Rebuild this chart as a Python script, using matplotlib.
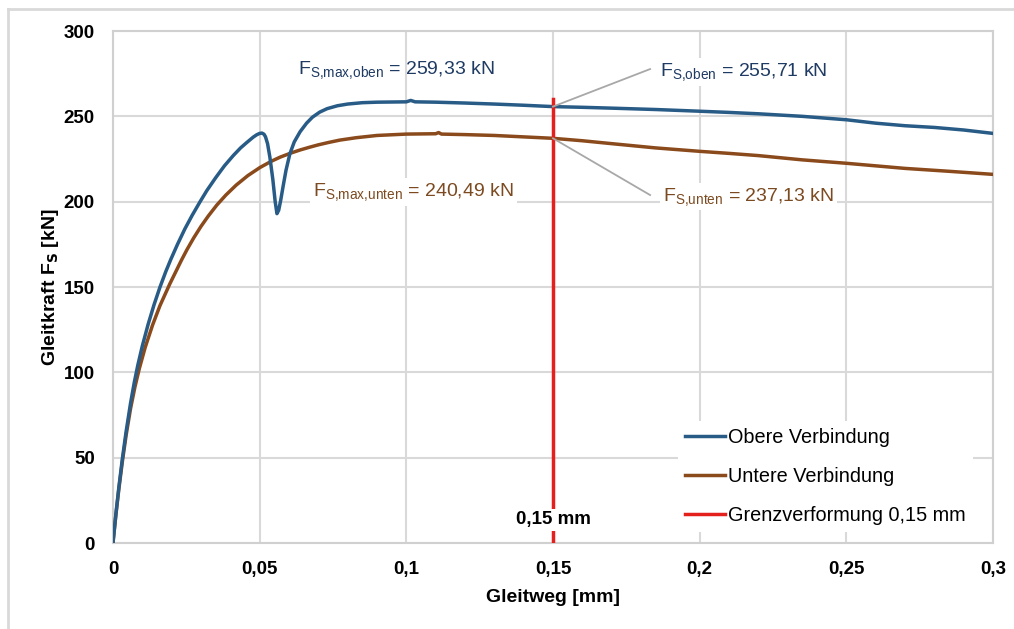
import matplotlib
matplotlib.use("Agg")
import matplotlib.pyplot as plt
from matplotlib.lines import Line2D

plt.rcParams['font.family'] = ['Liberation Sans', 'DejaVu Sans']
plt.rcParams['mathtext.default'] = 'regular'

# Gleitweg [mm] / Gleitkraft [kN], obere Verbindung
oben_x = [0, 0.001, 0.002, 0.0032, 0.0045, 0.006, 0.0073, 0.0085, 0.01, 0.012,
          0.014, 0.016, 0.018, 0.0197, 0.022, 0.0245, 0.027, 0.0297, 0.032, 0.035,
          0.038, 0.041, 0.0435, 0.0455, 0.0478, 0.049, 0.05, 0.0508, 0.0515, 0.052,
          0.0527, 0.0535, 0.0545, 0.0553, 0.0559, 0.0565, 0.0572, 0.058, 0.059, 0.0603,
          0.0618, 0.0638, 0.066, 0.068, 0.0705, 0.073, 0.0765, 0.08, 0.085, 0.09,
          0.1, 0.1015, 0.103, 0.11, 0.12, 0.13, 0.14, 0.15, 0.16, 0.17,
          0.185, 0.2, 0.21, 0.22, 0.235, 0.25, 0.26, 0.27, 0.28, 0.29,
          0.3]
oben_y = [0, 17, 32.5, 49.3, 65.5, 82, 94.4, 104.4, 115.4, 128.2,
          139.6, 149.8, 159, 166.1, 175, 184, 192, 200, 206.5, 214,
          221, 227, 231.5, 234.5, 237.8, 239.2, 240, 240.2, 239.5, 238,
          234, 226, 213, 200, 193, 195, 201, 209, 218.5, 228,
          235, 241, 246, 249.5, 252.5, 254.5, 256.2, 257.2, 258, 258.3,
          258.5, 259.33, 258.5, 258.3, 257.8, 257.2, 256.5, 255.71, 255.3, 254.8,
          254, 253, 252.3, 251.5, 250, 248, 246, 244.5, 243.5, 242,
          240]

# untere Verbindung
unten_x = [0, 0.001, 0.002, 0.0032, 0.0045, 0.006, 0.0075, 0.009, 0.011, 0.0135,
           0.016, 0.0194, 0.0234, 0.0252, 0.0275, 0.03, 0.0325, 0.0354, 0.0385, 0.042,
           0.046, 0.0501, 0.054, 0.057, 0.0605, 0.0638, 0.067, 0.07, 0.0735, 0.0774,
           0.083, 0.09, 0.1, 0.11, 0.111, 0.112, 0.12, 0.13, 0.15, 0.16,
           0.17, 0.185, 0.2, 0.21, 0.22, 0.235, 0.25, 0.26, 0.27, 0.285,
           0.3]
unten_y = [0, 16.5, 31.5, 47.7, 63.3, 78.8, 91.5, 102.3, 114.7, 127.7,
           139, 151.9, 165.9, 171.8, 178.7, 185.5, 191.6, 198, 203.9, 209.7,
           215.3, 220, 223.7, 226.1, 228.4, 230.3, 231.9, 233.3, 234.7, 236.1,
           237.5, 238.8, 239.6, 239.8, 240.49, 239.6, 239.3, 238.8, 237.13, 235.7,
           234, 231.5, 229.5, 228.3, 227, 224.5, 222.5, 221, 219.5, 217.8,
           216]

grenz_x = 0.15
grenz_top = 260
max_oben = 259.33
max_unten = 240.49
wert_oben = 255.71
wert_unten = 237.13

x_ticks = [0, 0.05, 0.1, 0.15, 0.2, 0.25, 0.3]
x_labels = ['0', '0,05', '0,1', '0,15', '0,2', '0,25', '0,3']
y_ticks = [0, 50, 100, 150, 200, 250, 300]

c_oben = '#285b86'
c_unten = '#8a4a1c'
c_oben_txt = '#1f3b63'
c_unten_txt = '#7c4a20'
c_rot = '#e3201c'
c_grau = '#a8a8a8'


def kn(v):
    return f'{v:.2f}'.replace('.', ',') + ' kN'


fig = plt.figure(figsize=(10.14, 6.29), dpi=100)
ax = fig.add_axes([0.1114, 0.1367, 0.8679, 0.814])

ax.plot(oben_x, oben_y, color=c_oben, lw=2.5, zorder=4)
ax.plot(unten_x, unten_y, color=c_unten, lw=2.5, zorder=3)
ax.plot([grenz_x, grenz_x], [0, grenz_top], color=c_rot, lw=2.5, zorder=5)

ax.set_xlim(0, 0.3)
ax.set_ylim(0, 300)
ax.set_xticks(x_ticks)
ax.set_xticklabels(x_labels)
ax.set_yticks(y_ticks)
ax.tick_params(length=0, labelsize=13.5, pad=13)
for lab in ax.get_xticklabels() + ax.get_yticklabels():
    lab.set_fontweight('bold')
ax.grid(True, color='#d9d9d9', lw=1.5, zorder=0)
ax.set_axisbelow(True)
for sp in ax.spines.values():
    sp.set_color('#d0d0d0')
    sp.set_linewidth(1.5)

ax.set_xlabel('Gleitweg [mm]', fontsize=14, fontweight='bold', labelpad=8)
ax.set_ylabel(r'Gleitkraft F$_\mathbf{S}$ [kN]', fontsize=14, fontweight='bold', labelpad=2)

# Maximalwerte
ax.text(0.0631, 277, r'F$_{S{,}max{,}oben}$ = ' + kn(max_oben),
        color=c_oben_txt, fontsize=14, ha='left', va='center', zorder=6)
ax.text(0.0682, 205.6, r'F$_{S{,}max{,}unten}$ = ' + kn(max_unten),
        color=c_unten_txt, fontsize=14, ha='left', va='center', zorder=6,
        bbox=dict(facecolor='white', edgecolor='none', pad=2))

# Werte bei 0,15 mm mit Hinweislinien
ax.plot([grenz_x, 0.1831], [wert_oben, 277.7], color=c_grau, lw=1.3, zorder=6)
ax.plot([grenz_x, 0.1831], [wert_unten, 203.9], color=c_grau, lw=1.3, zorder=6)
ax.text(0.1865, 276, r'F$_{S{,}oben}$ = ' + kn(wert_oben),
        color=c_oben_txt, fontsize=14, ha='left', va='center', zorder=6,
        bbox=dict(facecolor='white', edgecolor='none', pad=2))
ax.text(0.1875, 203, r'F$_{S{,}unten}$ = ' + kn(wert_unten),
        color=c_unten_txt, fontsize=14, ha='left', va='center', zorder=6,
        bbox=dict(facecolor='white', edgecolor='none', pad=2))

ax.text(grenz_x, 13.5, '0,15 mm', fontsize=13.5, fontweight='bold', ha='center', va='center',
        zorder=7, bbox=dict(facecolor='white', edgecolor='none', pad=1.5))

handles = [Line2D([], [], color=c_oben, lw=2.5),
           Line2D([], [], color=c_unten, lw=2.5),
           Line2D([], [], color=c_rot, lw=2.5)]
leg = ax.legend(handles, ['Obere Verbindung', 'Untere Verbindung', 'Grenzverformung 0,15 mm'],
                loc='lower right', bbox_to_anchor=(0.988, 0.003), fontsize=14.3,
                frameon=True, fancybox=False, framealpha=1, edgecolor='none',
                handlelength=2.0, handletextpad=0.15, labelspacing=1.0, borderpad=0.35)
leg.set_zorder(8)

# Rahmen um die Grafik
fig.add_artist(Line2D([8 / 1014, 1], [1 - 9 / 629, 1 - 9 / 629], color='#d9d9d9', lw=2))
fig.add_artist(Line2D([8 / 1014, 8 / 1014], [0, 1 - 9 / 629], color='#d9d9d9', lw=2))

fig.savefig('out.png', dpi=100, facecolor='white')
